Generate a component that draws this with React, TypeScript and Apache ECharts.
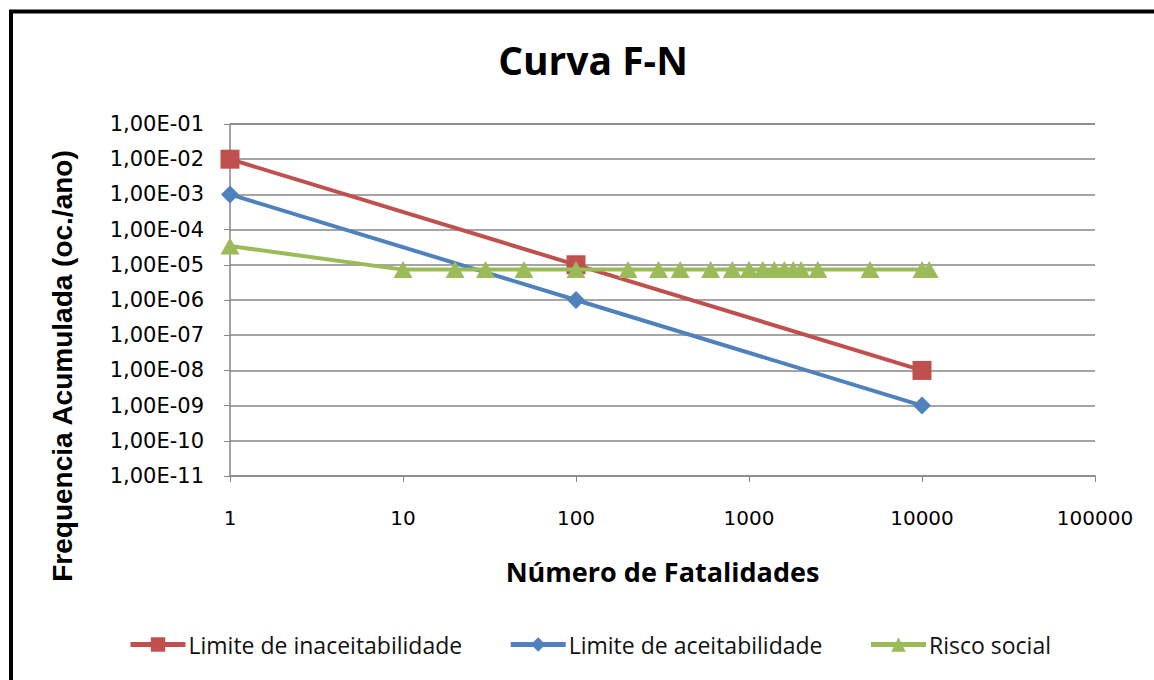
import React, { useEffect, useRef } from "react";
import * as echarts from "echarts";

const titleText = "Curva F-N";
const xAxisName = "Número de Fatalidades";
const yAxisName = "Frequencia Acumulada (oc./ano)";

const seriesNames = ["Limite de inaceitabilidade", "Limite de aceitabilidade", "Risco social"];

const inaceitX = [1, 100, 10000];
const inaceitY = [1e-2, 1e-5, 1e-8];

const aceitX = [1, 100, 10000];
const aceitY = [1e-3, 1e-6, 1e-9];

const riscoX = [1, 10, 20, 30, 50, 100, 200, 300, 400, 600, 800, 1000, 1200, 1400, 1600, 1800, 2000, 2500, 5000, 10000, 11000];
const riscoY = [3.4e-5, 7.3e-6, 7.3e-6, 7.3e-6, 7.3e-6, 7.3e-6, 7.3e-6, 7.3e-6, 7.3e-6, 7.3e-6, 7.3e-6, 7.3e-6, 7.3e-6, 7.3e-6, 7.3e-6, 7.3e-6, 7.3e-6, 7.3e-6, 7.3e-6, 7.3e-6, 7.3e-6];

const xTickLabels = ["1", "10", "100", "1000", "10000", "100000"];
const yTickLabels = ["1,00E-11", "1,00E-10", "1,00E-09", "1,00E-08", "1,00E-07", "1,00E-06", "1,00E-05", "1,00E-04", "1,00E-03", "1,00E-02", "1,00E-01"];

const colors = ["#C0504D", "#4F81BD", "#9BBB59"];

const zip = (xs: number[], ys: number[]) => xs.map((x, i) => [x, ys[i]]);

export default function App() {
  const ref = useRef<HTMLDivElement>(null);
  useEffect(() => {
    if (!ref.current) return;
    const chart = echarts.init(ref.current, null, { renderer: "svg" });
    const gridColor = "#878787";
    chart.setOption({
      animation: false,
      backgroundColor: "#ffffff",
      color: colors,
      title: {
        text: titleText,
        left: 588,
        top: 35,
        textAlign: "center",
        textStyle: { fontFamily: "Open Sans", fontWeight: "bold", fontSize: 39, color: "#000" },
      },
      grid: { left: 230, right: 59, top: 124, bottom: 204, containLabel: false },
      legend: {
        top: 628,
        left: 123,
        itemWidth: 55,
        itemHeight: 18,
        itemGap: 46,
        lineStyle: { width: 5 },
        textStyle: { fontFamily: "Open Sans", fontSize: 23, color: "#111", padding: [0, 0, 0, -2] },
        data: seriesNames,
      },
      xAxis: {
        type: "log",
        logBase: 10,
        min: 1,
        max: 100000,
        interval: 1,
        name: xAxisName,
        nameLocation: "middle",
        nameGap: 82,
        nameTextStyle: { fontFamily: "Open Sans", fontWeight: "bold", fontSize: 27, color: "#000" },
        axisLine: { show: true, lineStyle: { color: gridColor, width: 1.5 } },
        axisTick: { show: true, inside: false, length: 6, lineStyle: { color: gridColor } },
        minorTick: { show: false },
        splitLine: { show: false },
        axisLabel: {
          margin: 32,
          fontFamily: "DejaVu Sans",
          fontSize: 20,
          color: "#000",
          formatter: (v: number) => xTickLabels[Math.round(Math.log10(v))] ?? "",
        },
      },
      yAxis: {
        type: "log",
        logBase: 10,
        min: 1e-11,
        max: 1e-1,
        interval: 1,
        axisLine: { show: true, lineStyle: { color: gridColor, width: 1.5 } },
        axisTick: { show: true, inside: false, length: 6, lineStyle: { color: gridColor } },
        splitLine: { show: true, lineStyle: { color: gridColor, width: 1.5 } },
        axisLabel: {
          margin: 26,
          fontFamily: "DejaVu Sans",
          fontSize: 21,
          color: "#000",
          formatter: (v: number) => yTickLabels[Math.round(Math.log10(v)) + 11] ?? "",
        },
      },
      graphic: [
        {
          type: "text",
          x: 62,
          y: 366,
          rotation: Math.PI / 2,
          style: {
            text: yAxisName,
            fontFamily: "Liberation Sans",
            fontWeight: "bold",
            fontSize: 28,
            fill: "#000",
            textAlign: "center",
            textVerticalAlign: "middle",
          },
        },
        { type: "line", shape: { x1: 11, y1: 10, x2: 11, y2: 680 }, style: { stroke: "#000", lineWidth: 4 } },
        { type: "line", shape: { x1: 9, y1: 11.5, x2: 1154, y2: 11.5 }, style: { stroke: "#000", lineWidth: 4 } },
      ],
      series: [
        {
          name: seriesNames[0],
          type: "line",
          data: zip(inaceitX, inaceitY),
          symbol: "rect",
          symbolSize: 19,
          lineStyle: { width: 4, color: colors[0] },
          itemStyle: { color: colors[0] },
          z: 3,
        },
        {
          name: seriesNames[1],
          type: "line",
          data: zip(aceitX, aceitY),
          symbol: "diamond",
          symbolSize: 18,
          lineStyle: { width: 4, color: colors[1] },
          itemStyle: { color: colors[1] },
          z: 2,
        },
        {
          name: seriesNames[2],
          type: "line",
          data: zip(riscoX, riscoY),
          symbol: "triangle",
          symbolSize: [19, 17],
          lineStyle: { width: 4, color: colors[2] },
          itemStyle: { color: colors[2] },
          z: 4,
        },
      ],
    });
    return () => chart.dispose();
  }, []);
  return <div ref={ref} style={{ position: "fixed", left: 0, top: 0, width: 1154, height: 680 }} />;
}
